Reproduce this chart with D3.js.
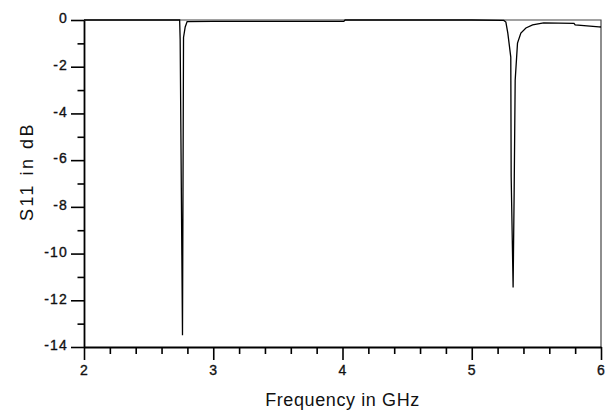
<!DOCTYPE html>
<html>
<head>
<meta charset="utf-8">
<script src="https://cdn.jsdelivr.net/npm/d3@7"></script>
<style>
  body { margin: 0; background: #fff; }
  svg { display: block; font-family: "Liberation Sans", Arial, sans-serif; }
  .tick text { font-size: 14px; letter-spacing: 1.2px; fill: #111; stroke: #111; stroke-width: 0.35px; }
</style>
</head>
<body>
<div class="chart"></div>
<script>
// S11 curve (GHz, dB)
var freq = [2.00, 2.740, 2.744, 2.762, 2.770, 2.783, 2.798, 3.00, 3.50, 4.01, 4.02, 5.00,
            5.248, 5.264, 5.279, 5.302, 5.305, 5.320, 5.328, 5.336, 5.354, 5.380, 5.419,
            5.471, 5.556, 5.791, 5.80, 5.984, 6.00];
var s11 = [0, 0, -0.85, -13.5, -0.75, -0.3, -0.07, -0.06, -0.06, -0.06, 0, 0,
           -0.02, -0.09, -0.56, -1.59, -6.7, -11.45, -7.4, -2.58, -0.99, -0.56, -0.34,
           -0.21, -0.12, -0.14, -0.21, -0.29, -0.30];

var xMajor = [2, 3, 4, 5, 6];
var yMajor = [0, -2, -4, -6, -8, -10, -12, -14];

var svgWidth = 606;
var svgHeight = 416;
var margin = { top: 20, right: 5, bottom: 69, left: 84 };
var chartWidth = svgWidth - margin.left - margin.right;
var chartHeight = svgHeight - margin.top - margin.bottom;

var svg = d3.select(".chart").append("svg")
    .attr("width", svgWidth)
    .attr("height", svgHeight);

var chartGroup = svg.append("g")
    .attr("transform", `translate(${margin.left}, ${margin.top})`);

var xScale = d3.scaleLinear().domain([2, 6]).range([0, chartWidth]);
var yScale = d3.scaleLinear().domain([-14, 0]).range([chartHeight, 0]);

// frame (top + right)
chartGroup.append("path")
    .attr("d", `M0,0H${chartWidth}V${chartHeight}`)
    .attr("fill", "none")
    .attr("stroke", "#444")
    .attr("stroke-width", 1.2);

// minor ticks
var xMinor = d3.range(2, 6.001, 0.2).filter(d => Math.abs(d - Math.round(d)) > 0.01);
var yMinor = d3.range(-13, 0, 2);

chartGroup.append("g")
    .attr("transform", `translate(0, ${chartHeight})`)
    .call(d3.axisBottom(xScale).tickValues(xMinor).tickSize(7).tickSizeOuter(0).tickFormat(""))
    .call(g => g.select(".domain").remove());

chartGroup.append("g")
    .call(d3.axisLeft(yScale).tickValues(yMinor).tickSize(6.5).tickSizeOuter(0).tickFormat(""))
    .call(g => g.select(".domain").remove());

// major axes
var xAxis = chartGroup.append("g")
    .attr("transform", `translate(0, ${chartHeight})`)
    .call(d3.axisBottom(xScale).tickValues(xMajor).tickSize(13).tickSizeOuter(0).tickPadding(5).tickFormat(d3.format("d")));

var yAxis = chartGroup.append("g")
    .call(d3.axisLeft(yScale).tickValues(yMajor).tickSize(13).tickSizeOuter(0).tickPadding(3).tickFormat(d => d3.format("d")(d).replace("−", "-")));

yAxis.selectAll("text").attr("dy", "0.2em");

chartGroup.selectAll(".tick line").attr("stroke", "#000").attr("stroke-width", 1.6);
[xAxis, yAxis].forEach(function (ax) {
    ax.select(".domain").attr("stroke", "#000").attr("stroke-width", 1.8);
});

// curve
var line = d3.line()
    .x((d, i) => xScale(freq[i]))
    .y((d, i) => yScale(s11[i]));

chartGroup.append("path")
    .datum(s11)
    .attr("fill", "none")
    .attr("stroke", "#000")
    .attr("stroke-width", 1.3)
    .attr("d", line);

// axis titles
svg.append("text")
    .attr("x", margin.left + chartWidth / 2)
    .attr("y", 406)
    .attr("text-anchor", "middle")
    .style("font-size", "18px")
    .style("letter-spacing", "0.6px")
    .attr("fill", "#111")
    .text("Frequency in GHz");

svg.append("text")
    .attr("transform", `translate(33, ${margin.top + chartHeight / 2 - 12}) rotate(-90)`)
    .attr("text-anchor", "middle")
    .style("font-size", "18px")
    .style("letter-spacing", "2.5px")
    .attr("fill", "#111")
    .text("S11 in dB");
</script>
</body>
</html>
